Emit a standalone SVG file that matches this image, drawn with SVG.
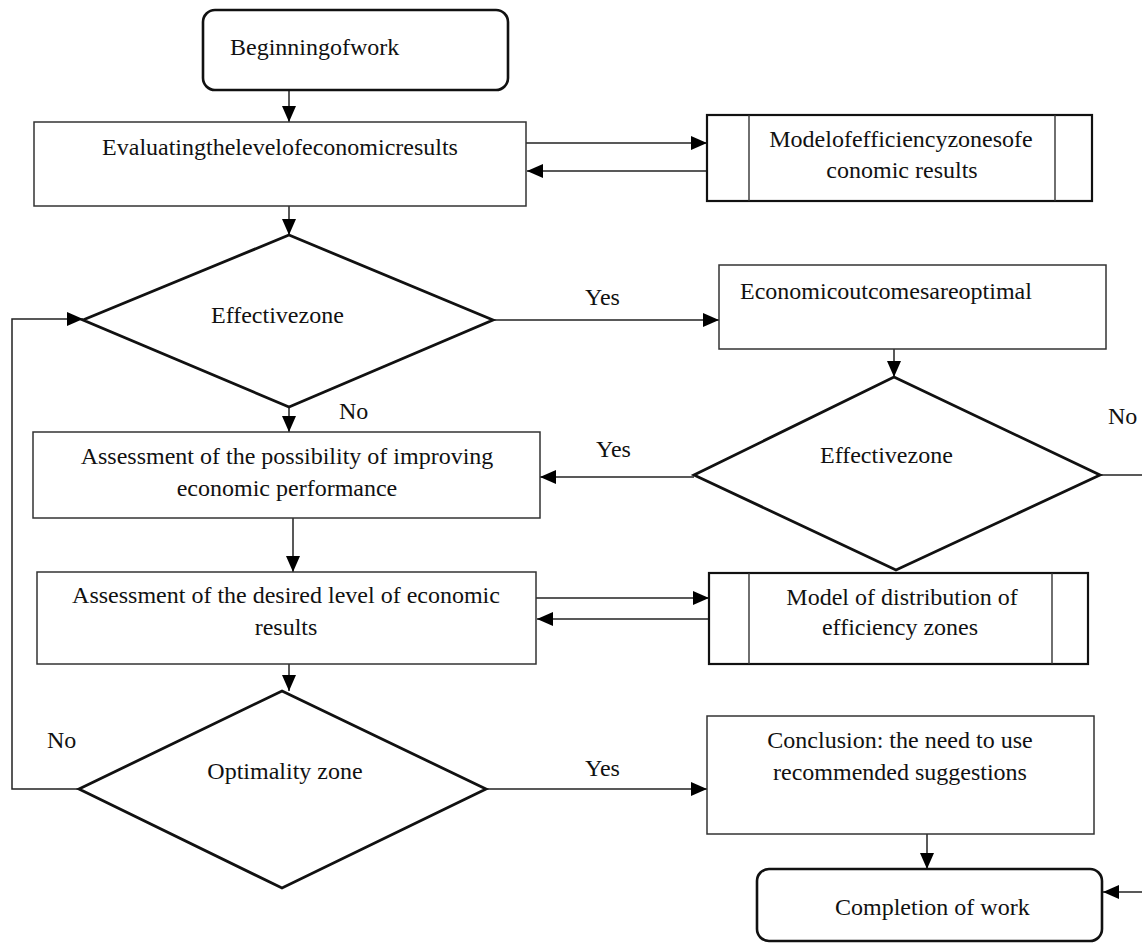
<svg xmlns="http://www.w3.org/2000/svg" width="1142" height="943" viewBox="0 0 1142 943">
<style>
text{font-family:"Liberation Serif","Times New Roman",serif;font-size:24px;fill:#111}
.box{fill:#fff;stroke:#333;stroke-width:1.5}
.rbox{fill:#fff;stroke:#111;stroke-width:2.6}
.dia{fill:#fff;stroke:#111;stroke-width:2.8}
.mod{fill:#fff;stroke:#111;stroke-width:2.2}
.inner{stroke:#333;stroke-width:1.4}
.c{fill:none;stroke:#222;stroke-width:1.5}
.m{text-anchor:middle}
</style>
<defs>
<marker id="ah" markerUnits="userSpaceOnUse" markerWidth="16" markerHeight="14" refX="16" refY="7" orient="auto">
<path d="M0,0 L16,7 L0,14 z" fill="#000"/>
</marker>
</defs>
<rect width="1142" height="943" fill="#fff"/>
<g id="connectors">
<path class="c" d="M289,90 V122" marker-end="url(#ah)"/>
<path class="c" d="M526,143 H707" marker-end="url(#ah)"/>
<path class="c" d="M707,171 H527" marker-end="url(#ah)"/>
<path class="c" d="M289,206 V235" marker-end="url(#ah)"/>
<path class="c" d="M493,320 H719" marker-end="url(#ah)"/>
<path class="c" d="M894,349 V377" marker-end="url(#ah)"/>
<path class="c" d="M694,477 H540" marker-end="url(#ah)"/>
<path class="c" d="M1100,475 H1142"/>
<path class="c" d="M289,407 V432" marker-end="url(#ah)"/>
<path class="c" d="M293,518 V572" marker-end="url(#ah)"/>
<path class="c" d="M536,598 H709" marker-end="url(#ah)"/>
<path class="c" d="M709,619 H537" marker-end="url(#ah)"/>
<path class="c" d="M289,664 V691" marker-end="url(#ah)"/>
<path class="c" d="M486,789 H707" marker-end="url(#ah)"/>
<path class="c" d="M79,789 H12 V319 H83" marker-end="url(#ah)"/>
<path class="c" d="M927,834 V869" marker-end="url(#ah)"/>
<path class="c" d="M1142,892 H1103" marker-end="url(#ah)"/>
<text x="585" y="305">Yes</text>
<text x="339" y="419">No</text>
<text x="1108" y="424">No</text>
<text x="596" y="457">Yes</text>
<text x="47" y="748">No</text>
<text x="585" y="776">Yes</text>
</g>
<g id="begin">
<rect class="rbox" x="203" y="10" width="305" height="80" rx="12"/>
<text x="230" y="55">Beginningofwork</text>
</g>
<g id="evaluate">
<rect class="box" x="34" y="122" width="492" height="84"/>
<text class="m" x="280" y="155">Evaluatingthelevelofeconomicresults</text>
</g>
<g id="model1">
<rect class="mod" x="707" y="115" width="385" height="86"/>
<line class="inner" x1="749" y1="115" x2="749" y2="201"/>
<line class="inner" x1="1055" y1="115" x2="1055" y2="201"/>
<text class="m" x="901" y="147">Modelofefficiencyzonesofe</text>
<text class="m" x="902" y="178">conomic results</text>
</g>
<g id="decision1">
<polygon class="dia" points="289,235 493,320 289,407 83,320"/>
<text x="211" y="323">Effectivezone</text>
</g>
<g id="optimal">
<rect class="box" x="719" y="265" width="387" height="84"/>
<text x="740" y="299">Economicoutcomesareoptimal</text>
</g>
<g id="decision2">
<polygon class="dia" points="894,377 1100,475 896,570 694,475"/>
<text x="820" y="463">Effectivezone</text>
</g>
<g id="assess1">
<rect class="box" x="33" y="432" width="507" height="86"/>
<text class="m" x="287" y="464">Assessment of the possibility of improving</text>
<text class="m" x="287" y="496">economic performance</text>
</g>
<g id="assess2">
<rect class="box" x="37" y="572" width="499" height="92"/>
<text class="m" x="286" y="603">Assessment of the desired level of economic</text>
<text class="m" x="286" y="635">results</text>
</g>
<g id="model2">
<rect class="mod" x="709" y="573" width="379" height="91"/>
<line class="inner" x1="749" y1="573" x2="749" y2="664"/>
<line class="inner" x1="1052" y1="573" x2="1052" y2="664"/>
<text class="m" x="902" y="605">Model of distribution of</text>
<text class="m" x="900" y="635">efficiency zones</text>
</g>
<g id="decision3">
<polygon class="dia" points="282,691 486,789 282,888 79,789"/>
<text class="m" x="285" y="779">Optimality zone</text>
</g>
<g id="conclusion">
<rect class="box" x="707" y="716" width="387" height="118"/>
<text class="m" x="900" y="748">Conclusion: the need to use</text>
<text class="m" x="900" y="780">recommended suggestions</text>
</g>
<g id="completion">
<rect class="rbox" x="757" y="869" width="345" height="72" rx="12"/>
<text x="835" y="915">Completion of work</text>
</g>
</svg>
